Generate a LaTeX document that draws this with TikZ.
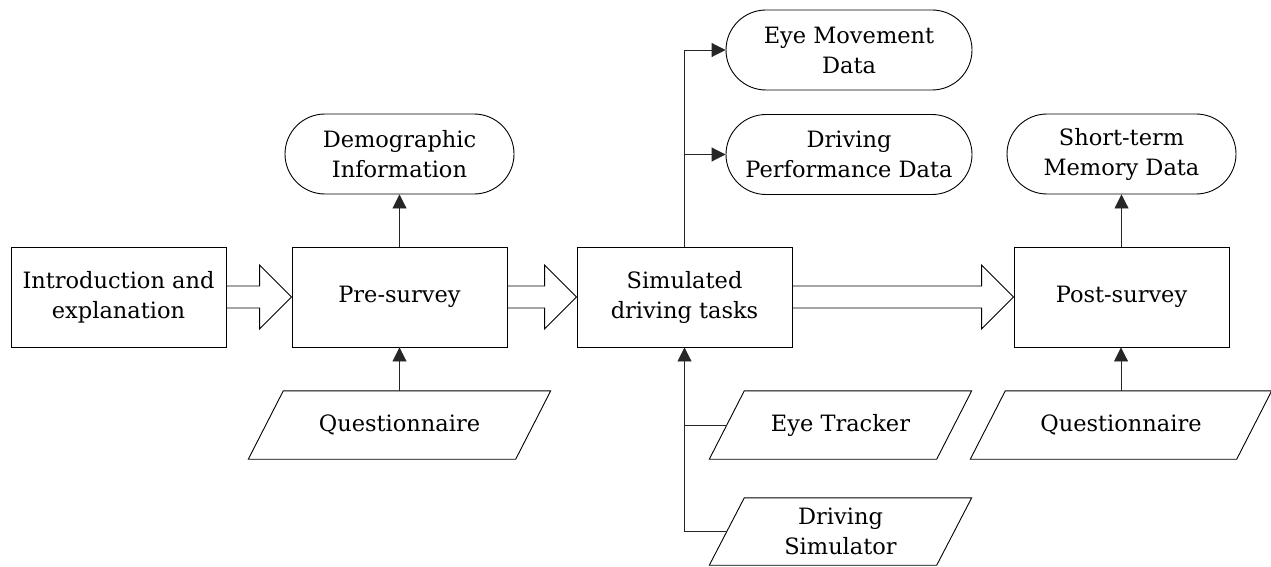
\documentclass[tikz,border=0pt]{standalone}
\usepackage{fontspec}
\setmainfont{DejaVu Serif}
\usetikzlibrary{arrows.meta,shapes.misc,calc}

% outline of an input/output box: a parallelogram leaning right
\newcommand\ioframe[1]{%
  \draw[frame] ([xshift=17.5pt]#1.north west) -- ([xshift=17.5pt]#1.north east)
    -- ([xshift=-17.5pt]#1.south east) -- ([xshift=-17.5pt]#1.south west) -- cycle;}

% wide hollow arrow from one process box to the next
\newcommand\flowarrow[2]{%
  \draw[frame] let \p1=(#1.east), \p2=(#2.west) in
    (\x1,\y1+11pt) -- (\x2-32pt,\y1+11pt) -- (\x2-32pt,\y1+32pt) -- (\x2,\y1)
    -- (\x2-32pt,\y1-32pt) -- (\x2-32pt,\y1-11pt) -- (\x1,\y1-11pt);}

\begin{document}
\begin{tikzpicture}[x=1pt,y=-1pt,
  every node/.style={font=\fontsize{22.5}{30}\selectfont, align=center, inner sep=0pt},
  frame/.style={draw=black, line width=0.9pt},
  proc/.style={frame, minimum width=215pt, minimum height=100pt},
  term/.style={frame, rounded rectangle, minimum width=229pt, minimum height=80pt},
  io/.style={minimum height=68pt},
  link/.style={draw=black!85, line width=0.9pt},
  tip/.style={link, -{Triangle[length=14pt,width=14pt]}},
]
\path[use as bounding box] (0,0) rectangle (1271,567);

% process steps
\node[proc] (intro) at (118.5,297) {Introduction and\\explanation};
\node[proc] (pre)   at (399.5,297) {Pre-survey};
\node[proc] (sim)   at (684.5,297) {Simulated\\driving tasks};
\node[proc] (post)  at (1121.5,297) {Post-survey};

% collected data
\node[term] (demo) at (399.5,154) {Demographic\\Information};
\node[term, minimum width=246pt] (eye)  at (849,50)    {Eye Movement\\Data};
\node[term, minimum width=246pt] (perf) at (849,154.5) {Driving\\Performance Data};
\node[term] (stm)  at (1121.5,154) {Short-term\\Memory Data};

% instruments
\node[io, minimum width=267pt] (q1)      at (399.5,425) {Questionnaire};
\node[io, minimum width=227pt] (tracker) at (840.5,425) {Eye Tracker};
\node[io, minimum width=227pt, minimum height=67pt] (simr) at (840.5,531.5) {Driving\\Simulator};
\node[io, minimum width=266pt] (q2)      at (1121,425) {Questionnaire};
\foreach \n in {q1,tracker,simr,q2} {\ioframe{\n}}

% main flow
\flowarrow{intro}{pre}
\flowarrow{pre}{sim}
\flowarrow{sim}{post}

% data outputs
\draw[tip] (pre.north) -- (pre.north |- demo.south);
\draw[tip] (post.north) -- (post.north |- stm.south);
\draw[tip] (sim.north) |- (eye.west);
\draw[tip] (sim.north |- perf.west) -- (perf.west);

% instrument inputs
\draw[tip] (q1.north) -- (q1.north |- pre.south);
\draw[tip] (q2.north) -- (q2.north |- post.south);
\draw[tip] (simr.west) -| (sim.south);
\draw[link] (tracker.west) -- (tracker.west -| sim.south);
\end{tikzpicture}
\end{document}
